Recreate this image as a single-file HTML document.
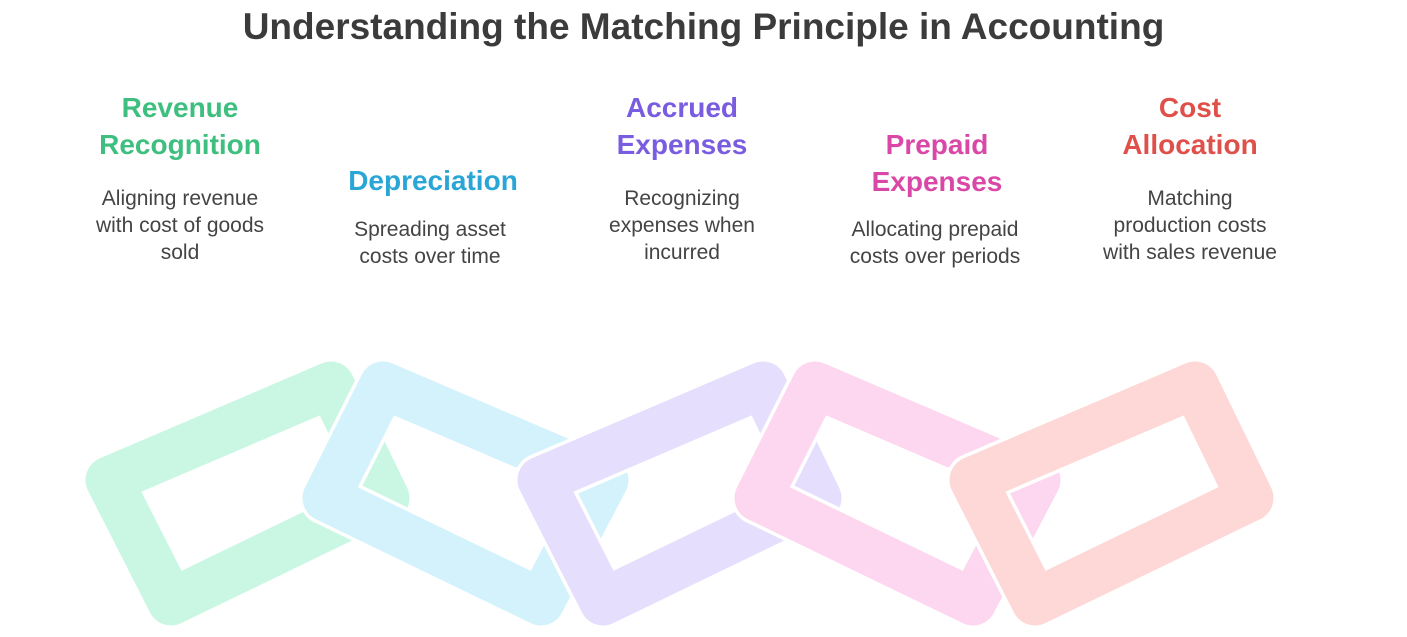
<!DOCTYPE html>
<html><head><meta charset="utf-8"><style>
body{margin:0;background:#fff;width:1407px;height:637px;overflow:hidden;position:relative;font-family:"Liberation Sans",sans-serif}
.t{position:absolute;text-align:center;white-space:nowrap;transform:translateX(-50%)}
h1{position:absolute;left:0;width:1407px;top:6px;margin:0;text-align:center;font-size:37px;color:#3b3b3b;font-weight:bold}
.h{font-weight:bold;font-size:28px;line-height:36.5px}
.d{font-size:21px;line-height:27px;color:#444}
svg{position:absolute;left:0;top:0}
</style></head><body>
<h1>Understanding the Matching Principle in Accounting</h1>
<div class="t h" style="left:180px;top:90px;color:#3fbf7f">Revenue<br>Recognition</div>
<div class="t d" style="left:180px;top:185px">Aligning revenue<br>with cost of goods<br>sold</div>
<div class="t h" style="left:433px;top:163px;color:#2aa6d6">Depreciation</div>
<div class="t d" style="left:430px;top:216px">Spreading asset<br>costs over time</div>
<div class="t h" style="left:682px;top:90px;color:#7a5ce0">Accrued<br>Expenses</div>
<div class="t d" style="left:682px;top:185px">Recognizing<br>expenses when<br>incurred</div>
<div class="t h" style="left:937px;top:127px;color:#d948a6">Prepaid<br>Expenses</div>
<div class="t d" style="left:935px;top:216px">Allocating prepaid<br>costs over periods</div>
<div class="t h" style="left:1190px;top:90px;color:#e0504a">Cost<br>Allocation</div>
<div class="t d" style="left:1190px;top:185px">Matching<br>production costs<br>with sales revenue</div>
<svg width="1407" height="637" viewBox="0 0 1407 637">
<defs>
<path id="A" d="M331,385 L386,498 L171,602 L109,480 Z"/>
<path id="B" d="M383,385 L326,498 L541,602 L605,480 Z"/>
</defs>
<g fill="none" stroke-linejoin="round">
<use href="#A" stroke="#fff" stroke-width="54"/><use href="#A" stroke="#c9f7e3" stroke-width="47"/>
<use href="#B" stroke="#fff" stroke-width="54"/><use href="#B" stroke="#d3f2fc" stroke-width="47"/>
<g transform="translate(432,0)">
<use href="#A" stroke="#fff" stroke-width="54"/><use href="#A" stroke="#e5defc" stroke-width="47"/>
<use href="#B" stroke="#fff" stroke-width="54"/><use href="#B" stroke="#fdd6ef" stroke-width="47"/>
</g>
<g transform="translate(864,0)">
<use href="#A" stroke="#fff" stroke-width="54"/><use href="#A" stroke="#fdd8d6" stroke-width="47"/>
</g>
</g>
</svg>
</body></html>
